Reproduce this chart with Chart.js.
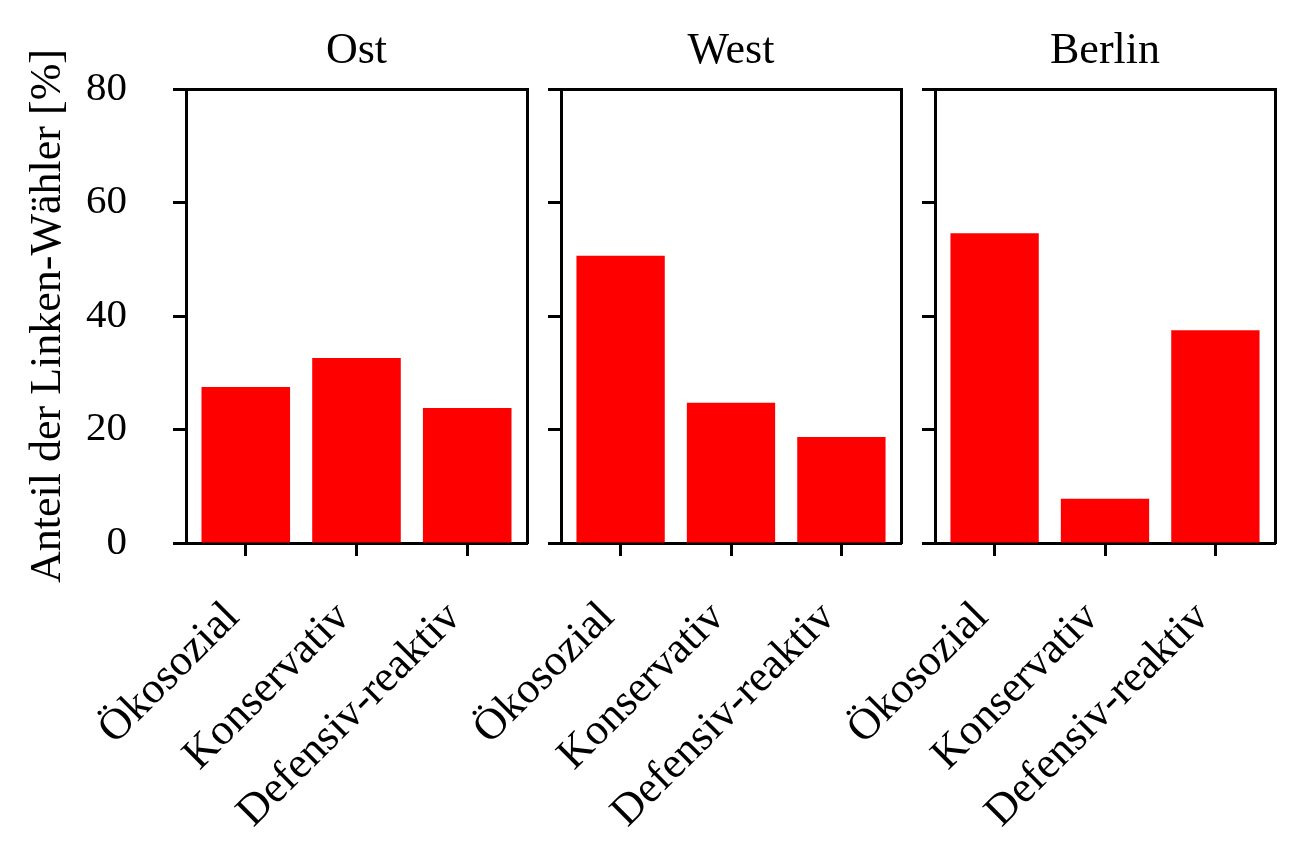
<!DOCTYPE html>
<html>
<head>
<meta charset="utf-8">
<script src="https://cdn.jsdelivr.net/npm/chart.js@4"></script>
<style>
  body { margin: 0; background: #fff; }
  #wrap { position: relative; width: 1305px; height: 864px; }
  .panel { position: absolute; left: 0; top: 0; width: 1305px; height: 864px; }
</style>
</head>
<body>
<div id="wrap">
  <div class="panel"><canvas id="chart_ost"></canvas></div>
  <div class="panel"><canvas id="chart_west"></canvas></div>
  <div class="panel"><canvas id="chart_berlin"></canvas></div>
</div>
<script>
// data
const categories = ["Ökosozial", "Konservativ", "Defensiv-reaktiv"];
const ost = [27.5, 32.6, 23.8];
const west = [50.6, 24.7, 18.7];
const berlin = [54.6, 7.8, 37.5];
const yTicks = [0, 20, 40, 60, 80];

const serif = "'Liberation Serif', 'DejaVu Serif', serif";

// one panel: left = where the plot box starts, right = where it ends
function panel(id, title, values, left, right, first) {
  const ctx = document.getElementById(id).getContext("2d");
  const yWidth = first ? left : 21;
  new Chart(ctx, {
    type: "bar",
    data: {
      datasets: [
        {
          data: values.map((v, i) => ({ x: i, y: v })),
          backgroundColor: "#ff0000",
          borderWidth: 0,
          barPercentage: 0.8,
          categoryPercentage: 1,
        },
      ],
    },
    options: {
      responsive: true,
      maintainAspectRatio: false,
      animation: false,
      layout: {
        padding: { left: left - yWidth, right: 1305 - right, top: 0, bottom: 0 },
      },
      plugins: { legend: { display: false }, tooltip: { enabled: false } },
      scales: {
        x: {
          type: "linear",
          position: "bottom",
          offset: false,
          min: -0.54,
          max: 2.54,
          afterBuildTicks: (axis) => {
            axis.ticks = categories.map((c, i) => ({ value: i }));
          },
          afterFit: (axis) => {
            axis.height = 864 - 543;
            axis.paddingLeft = 0;
            axis.paddingRight = 0;
          },
          grid: {
            offset: false,
            drawOnChartArea: false,
            tickLength: 13,
            tickWidth: 3,
            tickColor: "#000",
          },
          border: { display: true, width: 3, color: "#000" },
          ticks: {
            autoSkip: false,
            minRotation: 45,
            maxRotation: 45,
            padding: 36,
            labelOffset: -13,
            color: "#000",
            font: { family: serif, size: 44 },
            callback: (v) => categories[v],
          },
        },
        top: {
          type: "linear",
          position: "top",
          min: 0,
          max: 1,
          afterFit: (axis) => {
            axis.height = 89;
          },
          grid: { display: false, drawTicks: false },
          border: { display: true, width: 3, color: "#000" },
          ticks: { display: false },
          title: {
            display: true,
            text: title,
            color: "#000",
            font: { family: serif, size: 44 },
            padding: { top: 25, bottom: 0 },
          },
        },
        y: {
          position: "left",
          min: 0,
          max: 80,
          afterBuildTicks: (axis) => {
            axis.ticks = yTicks.map((v) => ({ value: v }));
          },
          afterFit: (axis) => {
            axis.width = yWidth;
            axis.paddingTop = 0;
            axis.paddingBottom = 0;
          },
          grid: {
            drawOnChartArea: false,
            tickLength: 13,
            tickWidth: 3,
            tickColor: "#000",
          },
          border: { display: true, width: 3, color: "#000" },
          ticks: {
            display: first,
            padding: 46,
            color: "#000",
            font: { family: serif, size: 41 },
          },
          title: {
            display: first,
            text: "Anteil der Linken-Wähler [%]",
            color: "#000",
            font: { family: serif, size: 44 },
            padding: { top: 22, bottom: 0 },
          },
        },
        right: {
          position: "right",
          min: 0,
          max: 80,
          afterFit: (axis) => {
            axis.width = 0;
          },
          grid: { display: false, drawTicks: false },
          border: { display: true, width: 3, color: "#000" },
          ticks: { display: false },
        },
      },
    },
  });
}

panel("chart_ost", "Ost", ost, 186, 527, true);
panel("chart_west", "West", west, 561, 901, false);
panel("chart_berlin", "Berlin", berlin, 935, 1275, false);
</script>
</body>
</html>
